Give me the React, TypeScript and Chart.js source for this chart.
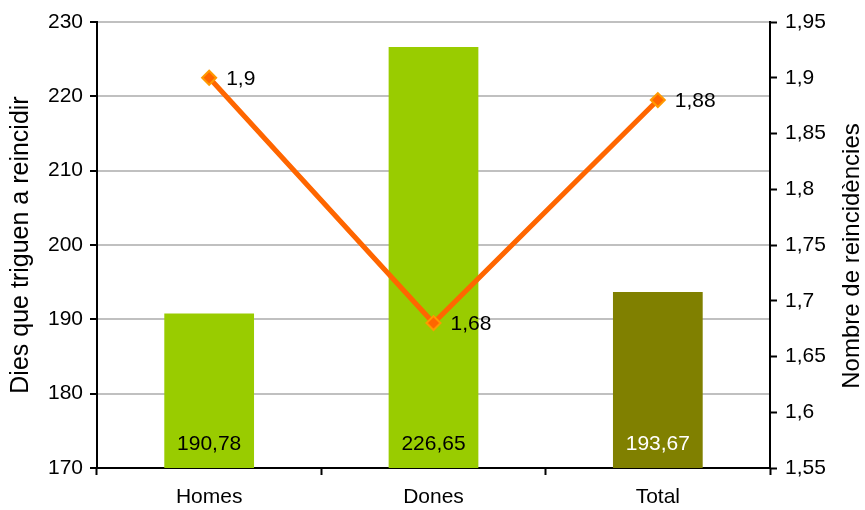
import React, { useEffect, useRef } from "react";
import { Chart, registerables } from "chart.js";

Chart.register(...registerables);

const categories = ["Homes", "Dones", "Total"];
const diesValues = [190.78, 226.65, 193.67];
const reincidValues = [1.9, 1.68, 1.88];
const barLabels = ["190,78", "226,65", "193,67"];
const lineLabels = ["1,9", "1,68", "1,88"];
const barColors = ["#99CC00", "#99CC00", "#808000"];
const barLabelColors = ["#000000", "#000000", "#FFFFFF"];
const leftTitle = "Dies que triguen a reincidir";
const rightTitle = "Nombre de reincidències";

const FONT = "'Liberation Sans', Arial, sans-serif";

const labelPlugin = {
  id: "labels",
  afterDatasetsDraw(chart: any) {
    const ctx = chart.ctx;
    const yScale = chart.scales.y;
    const base = yScale.getPixelForValue(yScale.min);
    ctx.save();
    ctx.font = `21px ${FONT}`;
    const barMeta = chart.getDatasetMeta(0);
    barMeta.data.forEach((el: any, i: number) => {
      ctx.fillStyle = barLabelColors[i];
      ctx.textAlign = "center";
      ctx.textBaseline = "middle";
      ctx.fillText(barLabels[i], el.x, base - 24);
    });
    const lineMeta = chart.getDatasetMeta(1);
    lineMeta.data.forEach((el: any, i: number) => {
      ctx.fillStyle = "#000000";
      ctx.textAlign = "left";
      ctx.textBaseline = "middle";
      ctx.fillText(lineLabels[i], el.x + 17, el.y + 1);
    });
    ctx.restore();
  },
  afterDraw(chart: any) {
    const ctx = chart.ctx;
    ctx.save();
    ctx.font = `24px ${FONT}`;
    ctx.fillStyle = "#000";
    ctx.textAlign = "center";
    ctx.textBaseline = "middle";
    ctx.translate(852, 256);
    ctx.rotate(-Math.PI / 2);
    ctx.fillText(rightTitle, 0, 0);
    ctx.restore();
  },
};

export default function App() {
  const ref = useRef<HTMLCanvasElement | null>(null);
  useEffect(() => {
    document.body.style.margin = "0";
    const canvas = ref.current;
    if (!canvas) return;
    const chart = new Chart(canvas, {
      type: "bar",
      data: {
        labels: categories,
        datasets: [
          {
            type: "bar",
            data: diesValues,
            backgroundColor: barColors,
            yAxisID: "y",
            barPercentage: 0.4,
            categoryPercentage: 1,
            order: 1,
          } as any,
          {
            type: "line",
            data: reincidValues,
            yAxisID: "y1",
            borderColor: "#FF6600",
            borderWidth: 5,
            pointStyle: "rectRot",
            pointRadius: 7,
            pointBackgroundColor: "#FF6600",
            pointBorderColor: "#FF9900",
            pointBorderWidth: 2,
            tension: 0,
            order: 0,
          } as any,
        ],
      },
      options: {
        responsive: false,
        animation: false,
        devicePixelRatio: 1,
        layout: { padding: { top: 22, left: 0, right: 0, bottom: 0 } },
        plugins: {
          legend: { display: false },
          tooltip: { enabled: false },
        },
        scales: {
          x: {
            offset: true,
            grid: {
              offset: true,
              drawOnChartArea: false,
              tickLength: 7,
              tickColor: "#000",
              tickWidth: 2,
            },
            border: { display: true, color: "#000", width: 2 },
            ticks: { color: "#000", font: { family: FONT, size: 21 }, padding: 10 },
            afterFit: (s: any) => {
              s.height = 42;
            },
          },
          y: {
            position: "left",
            min: 170,
            max: 230,
            ticks: {
              stepSize: 10,
              color: "#000",
              font: { family: FONT, size: 21 },
              padding: 7,
            },
            grid: {
              color: "#C0C0C0",
              lineWidth: 2,
              tickLength: 7,
              tickColor: "#000",
              tickWidth: 2,
            },
            border: { display: true, color: "#000", width: 2 },
            title: {
              display: true,
              text: leftTitle,
              color: "#000",
              font: { family: FONT, size: 25 },
              padding: { top: 6, bottom: 0 },
            },
            afterFit: (s: any) => {
              s.width = 97;
            },
          },
          y1: {
            position: "right",
            min: 1.55,
            max: 1.95,
            ticks: {
              stepSize: 0.05,
              color: "#000",
              font: { family: FONT, size: 21 },
              padding: 8,
              callback: (v: any) =>
                Number(v).toFixed(2).replace(/0$/, "").replace(".", ","),
            },
            grid: {
              drawOnChartArea: false,
              tickLength: 7,
              tickColor: "#000",
              tickWidth: 2,
            },
            border: { display: true, color: "#000", width: 2 },
            afterFit: (s: any) => {
              s.width = 95;
            },
          },
        },
      },
      plugins: [labelPlugin],
    } as any);
    return () => chart.destroy();
  }, []);
  return (
    <div style={{ width: 865, height: 510, background: "#fff" }}>
      <canvas ref={ref} width={865} height={510} />
    </div>
  );
}
